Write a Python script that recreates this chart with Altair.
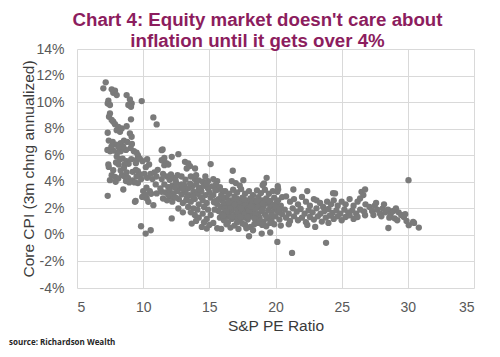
import altair as alt
import pandas as pd

# ---- data (S&P PE ratio, core CPI 3m annualized %) ----
high_inflation_era = [
    (7.17, 11.49), (6.99, 11.04), (7.62, 10.96), (7.87, 10.86), (7.74, 10.7), (8.0, 10.53),
    (8.75, 10.53), (9.0, 10.2), (9.13, 9.9), (8.88, 9.78), (9.08, 9.65), (9.89, 10.08),
    (7.37, 10.1), (7.32, 9.9), (7.49, 9.78), (7.49, 9.15), (7.42, 8.9), (7.62, 8.65),
    (7.74, 8.52), (7.87, 8.34), (8.12, 8.14), (8.0, 7.89), (8.25, 7.76), (8.38, 8.02),
    (9.08, 8.7), (8.75, 8.19), (7.32, 7.69), (9.0, 7.64), (9.13, 7.39), (10.77, 8.85),
    (11.02, 8.32),
    (7.4, 7.1), (7.7, 7.0), (7.95, 6.8), (8.3, 6.9), (8.55, 7.1), (8.8, 7.0), (9.15, 6.85),
    (9.05, 6.55), (9.3, 6.3), (8.7, 6.4), (8.3, 6.3), (8.05, 6.2), (7.75, 6.35), (7.5, 6.3),
    (7.3, 6.4), (8.5, 6.65), (8.15, 6.6), (7.6, 6.65), (9.5, 6.2), (9.6, 6.0), (11.4, 6.38),
    (8.0, 5.9), (8.25, 5.7), (8.45, 5.75), (8.75, 5.55), (9.1, 5.7), (9.5, 5.65), (9.75, 5.75),
    (9.45, 5.4), (8.9, 5.35), (8.6, 5.3), (8.15, 5.3), (7.95, 5.45), (9.95, 5.55), (10.3, 5.7),
    (10.45, 5.3), (10.2, 5.1), (7.37, 5.3), (7.4, 5.12), (11.4, 5.63), (11.6, 5.25),
    (7.74, 4.87), (7.62, 4.5), (7.87, 4.37), (8.12, 4.25), (7.92, 4.0), (7.49, 4.12),
    (8.4, 4.5), (8.6, 4.4), (8.85, 4.3), (8.7, 4.05), (9.2, 4.1), (9.35, 3.95), (8.95, 3.95),
    (8.3, 4.85), (8.55, 5.05), (8.75, 4.7), (9.2, 4.75), (9.45, 4.9), (9.6, 4.8), (9.8, 4.55),
    (9.5, 4.4), (9.85, 4.2), (9.6, 3.9), (10.1, 4.6), (10.3, 4.3), (10.55, 4.6), (10.7, 4.2),
    (10.85, 4.7), (11.0, 4.4), (11.1, 4.9), (10.95, 3.8),
    (7.32, 2.94), (8.5, 3.42), (9.38, 2.49), (9.93, 2.86), (10.27, 2.74), (10.39, 2.49),
    (10.77, 2.24), (10.0, 3.3), (10.25, 3.55), (10.5, 3.3), (10.2, 3.05), (10.6, 3.1),
    (11.02, 3.12), (11.4, 3.24), (11.5, 2.74), (9.84, 0.65), (10.19, 0.1), (10.57, 0.35),
    (9.43, 2.55),
]

transition_era = [
    (11.47, 6.43), (12.66, 6.08), (12.16, 5.88), (11.5, 5.6), (11.75, 5.4), (11.6, 5.8),
    (11.9, 5.3), (13.16, 5.5), (13.41, 5.38), (13.54, 5.18), (13.29, 5.0), (15.1, 5.33),
    (13.92, 5.0), (16.77, 4.83),
    (11.5, 4.6), (11.8, 4.4), (12.1, 4.55), (12.3, 4.3), (12.6, 4.5), (12.9, 4.4), (11.4, 4.2),
    (12.0, 4.15), (13.6, 4.4), (13.9, 4.2), (14.2, 4.1), (14.5, 4.0), (14.9, 4.05), (15.3, 4.2),
    (15.6, 4.05), (14.7, 4.4), (14.0, 4.5), (16.7, 4.05), (17.0, 3.9), (17.3, 3.7),
    (11.6, 3.8), (11.9, 3.6), (12.2, 3.7), (12.5, 3.9), (12.8, 3.6), (13.1, 3.75), (13.4, 3.5),
    (13.7, 3.65), (14.0, 3.8), (14.3, 3.55), (14.6, 3.7), (14.9, 3.5), (15.2, 3.65), (15.5, 3.8),
    (11.7, 3.2), (12.0, 3.35), (12.3, 3.1), (12.6, 3.3), (12.9, 3.05), (13.2, 3.2), (13.5, 3.0),
    (13.8, 3.25), (14.1, 3.1), (14.4, 3.3), (14.7, 3.0), (15.0, 3.2), (15.3, 3.0), (15.6, 3.4),
    (12.1, 2.9), (12.4, 3.55), (13.0, 3.45), (14.2, 3.45), (15.8, 3.6), (16.0, 3.3),
    (11.8, 2.6), (12.2, 2.5), (12.7, 2.7), (13.0, 2.4), (13.3, 2.8), (13.6, 2.5), (13.9, 2.7),
    (14.2, 2.3), (14.5, 2.6), (14.8, 2.4), (15.1, 2.8), (12.66, 1.99), (13.4, 2.1), (13.8, 2.0),
    (14.1, 1.9), (14.6, 2.1), (14.9, 1.9),
    (12.16, 1.24), (13.67, 0.85), (14.43, 0.6), (14.8, 0.48), (13.6, 1.7), (13.9, 1.5),
    (14.2, 1.3), (14.5, 1.6), (14.8, 1.2), (15.1, 1.5), (15.3, 0.9), (15.6, 0.5), (15.9, 0.45),
    (14.0, 1.05), (14.6, 0.95), (15.0, 0.75),
    (11.3, 3.5), (11.9, 3.0), (12.45, 2.8), (12.9, 3.8), (13.25, 2.6), (13.55, 3.85),
    (13.75, 2.9), (14.35, 2.85), (14.8, 3.85), (15.35, 2.45), (15.45, 3.35), (12.45, 4.1),
    (13.2, 4.15), (13.0, 1.7),
]

low_inflation_core = [
    (15.9, 3.0), (16.2, 3.3), (16.5, 3.1), (16.8, 3.4), (17.1, 3.2), (17.4, 3.45), (17.7, 3.1),
    (18.0, 3.3), (18.3, 3.0), (18.6, 3.35), (18.9, 3.15), (19.2, 3.4), (19.5, 3.1), (19.8, 3.3),
    (20.14, 3.24), (20.2, 3.44), (17.57, 4.12), (19.03, 3.74), (19.13, 3.87), (19.33, 4.3),
    (20.17, 3.67), (21.35, 3.42), (22.4, 3.3),
    (15.7, 2.7), (16.0, 2.55), (16.3, 2.85), (16.6, 2.6), (16.9, 2.9), (17.2, 2.65), (17.5, 2.8),
    (17.8, 2.55), (18.1, 2.75), (18.4, 2.6), (18.7, 2.85), (19.0, 2.6), (19.3, 2.75), (19.6, 2.55),
    (19.9, 2.8), (20.2, 2.6), (20.5, 2.85),
    (15.6, 2.3), (15.85, 2.1), (16.1, 2.4), (16.35, 2.2), (16.6, 2.35), (16.85, 2.05), (17.1, 2.3),
    (17.35, 2.15), (17.6, 2.4), (17.85, 2.1), (18.1, 2.35), (18.35, 2.2), (18.6, 2.05), (18.85, 2.3),
    (19.1, 2.15), (19.35, 2.4), (19.6, 2.1), (19.85, 2.25), (20.1, 2.45), (20.4, 2.2),
    (15.7, 1.8), (15.95, 1.6), (16.2, 1.95), (16.45, 1.7), (16.7, 1.85), (16.95, 1.55), (17.2, 1.8),
    (17.45, 1.65), (17.7, 1.9), (17.95, 1.6), (18.2, 1.75), (18.45, 1.95), (18.7, 1.6), (18.95, 1.8),
    (19.2, 1.55), (19.45, 1.85), (19.7, 1.65), (19.95, 1.9), (20.2, 1.7), (20.5, 1.55),
    (15.8, 1.3), (16.1, 1.1), (16.4, 1.4), (16.7, 1.2), (17.0, 1.35), (17.3, 1.05), (17.6, 1.3),
    (17.9, 1.15), (18.2, 1.4), (18.5, 1.1), (18.8, 1.3), (19.1, 1.0), (19.4, 1.25), (19.7, 1.1),
    (20.0, 1.4), (20.3, 1.15),
    (16.3, 0.8), (16.9, 0.7), (17.5, 0.85), (18.1, 0.6), (18.7, 0.9), (19.3, 0.65), (19.9, 0.8),
    (20.4, 0.7), (16.6, 0.55), (17.8, 0.5),
    (16.15, 2.0), (16.5, 1.55), (16.8, 2.55), (17.05, 1.95), (17.25, 2.5), (17.5, 1.75),
    (17.75, 2.25), (17.95, 2.0), (16.3, 1.75), (16.6, 2.1), (16.9, 2.3), (17.15, 1.6), (17.4, 2.0),
    (17.65, 1.55), (18.0, 1.85), (18.25, 2.5), (18.5, 1.5), (18.75, 2.2), (19.0, 1.9), (19.25, 2.6),
    (16.0, 2.85), (16.45, 2.45), (16.75, 1.4), (17.05, 2.75), (17.35, 1.35), (17.65, 2.65),
    (17.9, 1.35), (18.15, 2.15), (18.4, 1.25), (18.6, 2.55), (18.8, 1.05), (19.05, 2.35),
    (19.3, 1.4), (19.5, 2.55), (19.75, 1.45), (20.0, 2.1), (20.3, 1.9), (15.4, 1.9), (15.5, 2.55),
    (16.05, 1.45), (16.4, 0.95), (17.1, 0.95), (17.7, 0.75), (18.4, 0.8), (19.0, 0.75), (19.6, 0.9),
    (18.0, -0.1), (18.96, 0.1), (19.6, 0.18), (20.14, -0.53), (21.25, -1.36), (23.82, -0.6),
    (18.3, 0.35), (17.2, 0.45),
]

high_valuation_era = [
    (20.8, 2.9), (21.1, 2.5), (21.4, 2.7), (21.7, 2.3), (22.0, 2.86), (22.3, 2.5), (22.6, 2.2),
    (22.9, 2.7), (23.1, 2.6), (23.37, 2.4), (23.6, 2.1), (23.9, 2.5), (24.2, 2.3), (24.5, 3.12),
    (24.4, 2.6), (24.7, 2.2), (25.0, 2.5), (25.3, 2.3), (25.6, 2.7), (25.9, 2.2), (26.2, 2.5),
    (26.5, 3.24), (26.77, 3.42), (26.64, 3.0), (26.39, 2.74), (26.8, 2.3),
    (20.7, 1.9), (21.0, 1.6), (21.3, 2.0), (21.6, 1.75), (21.9, 1.95), (22.2, 1.6), (22.5, 1.85),
    (22.8, 1.7), (23.1, 2.0), (23.4, 1.6), (23.7, 1.8), (24.0, 1.95), (24.3, 1.65), (24.6, 1.85),
    (24.9, 1.6), (25.2, 1.9), (25.5, 1.7), (25.8, 1.85), (26.1, 1.6), (26.4, 1.9), (26.7, 1.75),
    (20.8, 1.3), (21.1, 1.05), (21.4, 1.4), (21.7, 1.1), (22.0, 1.3), (22.3, 0.95), (22.6, 1.35),
    (22.9, 1.15), (23.2, 1.4), (23.5, 1.0), (23.8, 1.3), (24.1, 1.45), (24.4, 1.2), (24.7, 1.4),
    (25.0, 1.1), (25.3, 1.35), (25.6, 1.48), (25.9, 1.2), (26.2, 1.35), (26.77, 1.48),
    (21.0, 0.8), (22.4, 0.75), (23.0, 0.6), (24.0, 0.9), (24.35, 3.14),
    (27.1, 2.1), (27.3, 1.8), (27.5, 2.2), (27.7, 1.9), (27.9, 1.6), (28.1, 2.0), (28.3, 1.7),
    (28.5, 1.9), (28.7, 1.55), (28.9, 1.8), (29.1, 2.0), (29.3, 1.7), (29.5, 1.5), (29.7, 1.35),
    (27.4, 1.5), (28.0, 1.4), (28.6, 1.3), (29.0, 1.25), (28.2, 2.3), (27.6, 2.4), (28.53, 0.52),
    (29.8, 1.56), (30.07, 0.73), (30.47, 0.9), (30.83, 0.55), (30.4, 0.98), (30.05, 4.12),
    (29.2, 1.1), (29.9, 1.05),
]

x_ticks = [5, 10, 15, 20, 25, 30, 35]
y_ticks = [-4, -2, 0, 2, 4, 6, 8, 10, 12, 14]
title_lines = ["Chart 4: Equity market doesn't care about", "inflation until it gets over 4%"]
x_title = "S&P PE Ratio"
y_title = "Core CPI (3m chng annualized)"
source_note = "source: Richardson Wealth"

rows = high_inflation_era + transition_era + low_inflation_core + high_valuation_era
df = pd.DataFrame(rows, columns=["pe", "cpi"])

points = alt.Chart(df).mark_circle(size=40, color="#7a7a7a", opacity=1).encode(
    x=alt.X(
        "pe:Q",
        scale=alt.Scale(domain=[5, 35], nice=False, zero=False),
        axis=alt.Axis(
            values=x_ticks, title=x_title, labelPadding=12, titleY=37,
            titleBaseline="middle",
        ),
    ),
    y=alt.Y(
        "cpi:Q",
        scale=alt.Scale(domain=[-4, 14], nice=False, zero=False),
        axis=alt.Axis(
            values=y_ticks, title=y_title, labelExpr="datum.value + '%'",
            labelPadding=13, titleX=-49, titleY=119.5, titleBaseline="middle",
            titleAngle=270,
        ),
    ),
)

source = alt.Chart(pd.DataFrame({"t": [source_note]})).mark_text(
    align="left", baseline="alphabetic", font="Open Sans", fontSize=8,
    fontWeight="bold", color="#262626",
).encode(x=alt.value(-68), y=alt.value(296), text="t:N")

chart = alt.layer(points, source).properties(
    width=397,
    height=239,
    autosize=alt.AutoSizeParams(type="none"),
    padding={"left": 69, "top": 41, "right": 10, "bottom": 61},
    title=alt.Title(
        title_lines, font="Liberation Sans", fontSize=18.7, fontWeight="bold",
        color="#8c1d5e", anchor="middle", dx=-18, dy=15, offset=6, lineHeight=21.5,
    ),
).configure_view(strokeWidth=0).configure_axis(
    domain=False, ticks=False, grid=True, gridColor="#d9d9d9", gridWidth=1,
    labelFont="Liberation Sans", labelFontSize=14, labelColor="#595959",
    titleFont="Liberation Sans", titleFontSize=15.5, titleFontWeight="normal",
    titleColor="#3a3a3a",
)

chart.save("out.html", embed_options={"renderer": "svg", "actions": False})
